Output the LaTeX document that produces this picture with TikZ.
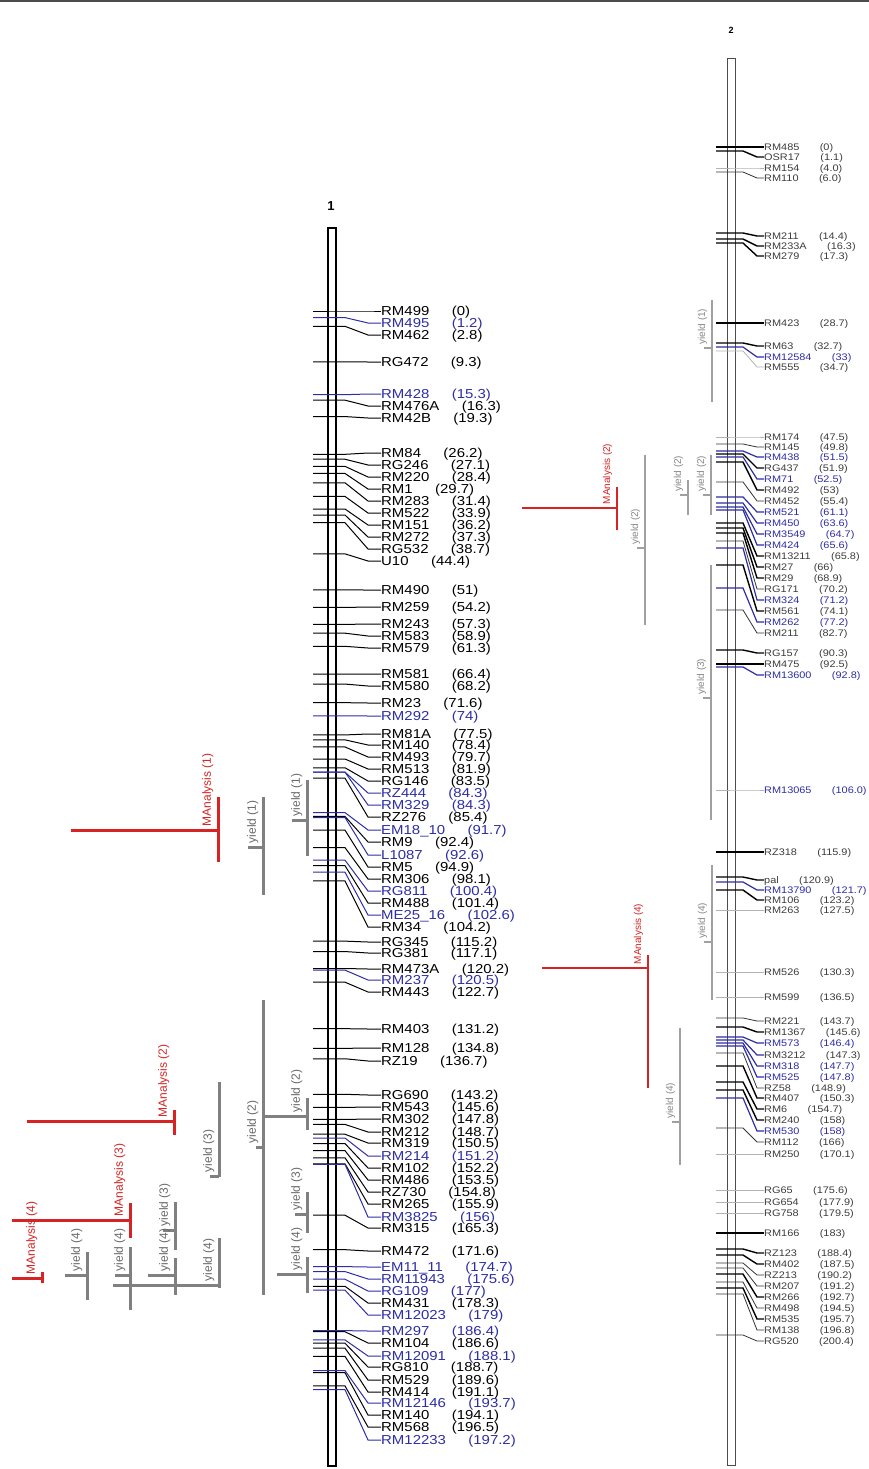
\documentclass[tikz,border=0pt]{standalone}
\usepackage{fontspec}
\newfontfamily\mapfont[FakeStretch=1.15]{Liberation Sans}
\newfontfamily\qfont{Liberation Sans}
\definecolor{mblue}{RGB}{45,45,165}
\definecolor{mred}{RGB}{215,35,35}
\definecolor{qgray}{RGB}{128,128,128}
\definecolor{tgray}{RGB}{105,105,105}
\definecolor{dtext}{RGB}{60,60,60}
\tikzset{
  labA/.style={font=\mapfont\fontsize{13}{13}\selectfont, inner sep=0pt, text height=9.3pt, text depth=0pt, anchor=west},
  labB/.style={font=\mapfont\fontsize{9.5}{9.5}\selectfont, inner sep=0pt, text height=6.8pt, text depth=0pt, anchor=west},
  tickA/.style={line width=1pt},
  ckK/.style={draw=black, line width=1.4pt},
  ckN/.style={draw=black!80, line width=0.8pt},
  ckL/.style={draw=black!30, line width=0.8pt},
  ckB/.style={draw=mblue, line width=1.2pt},
  graybar/.style={draw=qgray, line width=3pt},
  redbar/.style={draw=mred, line width=3pt},
  graylab/.style={font=\qfont\fontsize{12}{12}\selectfont, text=tgray, inner sep=0.5pt},
  redlab/.style={font=\qfont\fontsize{12}{12}\selectfont, text=mred, inner sep=0.5pt},
  graybarB/.style={draw=qgray!75, line width=1.5pt},
  redbarB/.style={draw=mred, line width=2.2pt},
  graylabB/.style={font=\qfont\fontsize{10}{10}\selectfont, text=tgray!80, inner sep=0.5pt},
  redlabB/.style={font=\qfont\fontsize{10}{10}\selectfont, text=mred, inner sep=0.5pt}
}
% chromosome 1 marker: id, colour, cM, label y, name, value
\newcommand\mkA[6]{%
  \coordinate (a#1) at (313,{311+5.47*#3});
  \node[labA,text=#2] (an#1) at (381,#4) {#5};
  \node[labA,text=#2] (av#1) at ([xshift=22pt]an#1.east) {#6};
  \draw[tickA,draw=#2] (a#1) -- ++(32,0) -- (368,#4) -- (an#1.west);
}
% chromosome 2 marker: id, tick style, text colour, tick y, label y, name, value
\newcommand\mkB[7]{%
  \coordinate (b#1) at (716,#4);
  \node[labB,text=#3] (bn#1) at (764,#5) {#6};
  \node[labB,text=#3] (bv#1) at ([xshift=20pt]bn#1.east) {#7};
  \draw[#2] (b#1) -- ++(27,0) -- (757,#5) -- (bn#1.west);
}
% QTL: id, bar style, label style, bar x, y1, y2, stub x, stub y, text
\newcommand\qtl[9]{%
  \draw[#2] (#4,#5) -- (#4,#6);
  \draw[#2] (#7,#8) -- (#4,#8);
  \node[#3,rotate=90,anchor=south west] (q#1) at ({#4-4},{#8-3}) {#9};
}
\begin{document}
\begin{tikzpicture}[x=1pt,y=-1pt]
\useasboundingbox (0,0) rectangle (869,1469);
\draw[line width=1.2pt, black!70] (0,1) -- (869,1);
% ---------- chromosome 1 ----------
\node[font=\qfont\bfseries\fontsize{13}{13}\selectfont] (c1) at (331,206) {1};
\draw[line width=1.3pt, fill=white] (328,228) rectangle (336,1466);
\mkA{1}{black}{0}{311}{RM499}{(0)}
\mkA{2}{mblue}{1.2}{323}{RM495}{(1.2)}
\mkA{3}{black}{2.8}{335}{RM462}{(2.8)}
\mkA{4}{black}{9.3}{362}{RG472}{(9.3)}
\mkA{5}{mblue}{15.3}{394}{RM428}{(15.3)}
\mkA{6}{black}{16.3}{406}{RM476A}{(16.3)}
\mkA{7}{black}{19.3}{418}{RM42B}{(19.3)}
\mkA{8}{black}{26.2}{453}{RM84}{(26.2)}
\mkA{9}{black}{27.1}{465}{RG246}{(27.1)}
\mkA{10}{black}{28.4}{477}{RM220}{(28.4)}
\mkA{11}{black}{29.7}{489}{RM1}{(29.7)}
\mkA{12}{black}{31.4}{501}{RM283}{(31.4)}
\mkA{13}{black}{33.9}{513}{RM522}{(33.9)}
\mkA{14}{black}{36.2}{525}{RM151}{(36.2)}
\mkA{15}{black}{37.3}{537}{RM272}{(37.3)}
\mkA{16}{black}{38.7}{549}{RG532}{(38.7)}
\mkA{17}{black}{44.4}{561}{U10}{(44.4)}
\mkA{18}{black}{51}{590}{RM490}{(51)}
\mkA{19}{black}{54.2}{607}{RM259}{(54.2)}
\mkA{20}{black}{57.3}{624}{RM243}{(57.3)}
\mkA{21}{black}{58.9}{636}{RM583}{(58.9)}
\mkA{22}{black}{61.3}{648}{RM579}{(61.3)}
\mkA{23}{black}{66.4}{674}{RM581}{(66.4)}
\mkA{24}{black}{68.2}{686}{RM580}{(68.2)}
\mkA{25}{black}{71.6}{703}{RM23}{(71.6)}
\mkA{26}{mblue}{74}{716}{RM292}{(74)}
\mkA{27}{black}{77.5}{734}{RM81A}{(77.5)}
\mkA{28}{black}{78.4}{745}{RM140}{(78.4)}
\mkA{29}{black}{79.7}{757}{RM493}{(79.7)}
\mkA{30}{black}{81.9}{769}{RM513}{(81.9)}
\mkA{31}{black}{83.5}{781}{RG146}{(83.5)}
\mkA{32}{mblue}{84.3}{793}{RZ444}{(84.3)}
\mkA{33}{mblue}{84.3}{805}{RM329}{(84.3)}
\mkA{34}{black}{85.4}{817}{RZ276}{(85.4)}
\mkA{35}{mblue}{91.7}{830}{EM18\_10}{(91.7)}
\mkA{36}{black}{92.4}{842}{RM9}{(92.4)}
\mkA{37}{mblue}{92.6}{855}{L1087}{(92.6)}
\mkA{38}{black}{94.9}{867}{RM5}{(94.9)}
\mkA{39}{black}{98.1}{879}{RM306}{(98.1)}
\mkA{40}{mblue}{100.4}{891}{RG811}{(100.4)}
\mkA{41}{black}{101.4}{903}{RM488}{(101.4)}
\mkA{42}{mblue}{102.6}{915}{ME25\_16}{(102.6)}
\mkA{43}{black}{104.2}{927}{RM34}{(104.2)}
\mkA{44}{black}{115.2}{942}{RG345}{(115.2)}
\mkA{45}{black}{117.1}{953}{RG381}{(117.1)}
\mkA{46}{black}{120.2}{969}{RM473A}{(120.2)}
\mkA{47}{mblue}{120.5}{980}{RM237}{(120.5)}
\mkA{48}{black}{122.7}{992}{RM443}{(122.7)}
\mkA{49}{black}{131.2}{1029}{RM403}{(131.2)}
\mkA{50}{black}{134.8}{1048}{RM128}{(134.8)}
\mkA{51}{black}{136.7}{1061}{RZ19}{(136.7)}
\mkA{52}{black}{143.2}{1095}{RG690}{(143.2)}
\mkA{53}{black}{145.6}{1107}{RM543}{(145.6)}
\mkA{54}{black}{147.8}{1119}{RM302}{(147.8)}
\mkA{55}{black}{148.7}{1132}{RM212}{(148.7)}
\mkA{56}{black}{150.5}{1143}{RM319}{(150.5)}
\mkA{57}{mblue}{151.2}{1156}{RM214}{(151.2)}
\mkA{58}{black}{152.2}{1168}{RM102}{(152.2)}
\mkA{59}{black}{153.5}{1180}{RM486}{(153.5)}
\mkA{60}{black}{154.8}{1192}{RZ730}{(154.8)}
\mkA{61}{black}{155.9}{1204}{RM265}{(155.9)}
\mkA{62}{mblue}{156}{1217}{RM3825}{(156)}
\mkA{63}{black}{165.3}{1228}{RM315}{(165.3)}
\mkA{64}{black}{171.6}{1251}{RM472}{(171.6)}
\mkA{65}{mblue}{174.7}{1267}{EM11\_11}{(174.7)}
\mkA{66}{mblue}{175.6}{1279}{RM11943}{(175.6)}
\mkA{67}{mblue}{177}{1291}{RG109}{(177)}
\mkA{68}{black}{178.3}{1303}{RM431}{(178.3)}
\mkA{69}{mblue}{179}{1315}{RM12023}{(179)}
\mkA{70}{mblue}{186.4}{1331}{RM297}{(186.4)}
\mkA{71}{black}{186.6}{1343}{RM104}{(186.6)}
\mkA{72}{mblue}{188.1}{1356}{RM12091}{(188.1)}
\mkA{73}{black}{188.7}{1367}{RG810}{(188.7)}
\mkA{74}{black}{189.6}{1380}{RM529}{(189.6)}
\mkA{75}{black}{191.1}{1392}{RM414}{(191.1)}
\mkA{76}{mblue}{193.7}{1403}{RM12146}{(193.7)}
\mkA{77}{black}{194.1}{1415}{RM140}{(194.1)}
\mkA{78}{black}{196.5}{1427}{RM568}{(196.5)}
\mkA{79}{mblue}{197.2}{1440}{RM12233}{(197.2)}
% ---------- QTLs left of chromosome 1 ----------
\qtl{1}{redbar}{redlab}{218}{797}{862}{71}{830}{MAnalysis (1)}
\qtl{2}{graybar}{graylab}{263}{797}{895}{248}{847}{yield (1)}
\qtl{3}{graybar}{graylab}{307}{780}{856}{292}{820}{yield (1)}
\qtl{4}{graybar}{graylab}{263}{1000}{1295}{256}{1147}{yield (2)}
\qtl{5}{graybar}{graylab}{307}{1098}{1130}{263}{1116}{yield (2)}
\qtl{6}{graybar}{graylab}{307}{1192}{1233}{295}{1214}{yield (3)}
\qtl{7}{graybar}{graylab}{307}{1257}{1293}{277}{1274}{yield (4)}
\qtl{8}{graybar}{graylab}{219}{1082}{1177}{210}{1176}{yield (3)}
\qtl{9}{graybar}{graylab}{219}{1238}{1288}{113}{1285}{yield (4)}
\qtl{10}{graybar}{graylab}{175}{1202}{1250}{163}{1230}{yield (3)}
\qtl{11}{graybar}{graylab}{175}{1258}{1295}{148}{1275}{yield (4)}
\qtl{12}{graybar}{graylab}{130}{1247}{1310}{115}{1275}{yield (4)}
\qtl{13}{graybar}{graylab}{87}{1252}{1300}{65}{1275}{yield (4)}
\qtl{14}{redbar}{redlab}{130}{1203}{1238}{12}{1220}{MAnalysis (3)}
\qtl{15}{redbar}{redlab}{42}{1272}{1283}{12}{1278}{MAnalysis (4)}
\qtl{16}{redbar}{redlab}{174}{1110}{1135}{27}{1121}{MAnalysis (2)}
% ---------- chromosome 2 ----------
\node[font=\qfont\bfseries\fontsize{9}{9}\selectfont] (c2) at (731,30) {2};
\draw[line width=0.9pt, black!70, fill=white] (727,58) rectangle (735,1465);
\mkB{1}{ckK}{dtext}{147}{147}{RM485}{(0)}
\mkB{2}{ckK}{dtext}{151}{157}{OSR17}{(1.1)}
\mkB{3}{ckL}{dtext}{168}{168}{RM154}{(4.0)}
\mkB{4}{ckN}{dtext}{172}{178}{RM110}{(6.0)}
\mkB{5}{ckK}{dtext}{233}{236}{RM211}{(14.4)}
\mkB{6}{ckK}{dtext}{239}{246}{RM233A}{(16.3)}
\mkB{7}{ckK}{dtext}{243}{256}{RM279}{(17.3)}
\mkB{8}{ckK}{dtext}{323}{323}{RM423}{(28.7)}
\mkB{9}{ckK}{dtext}{343}{346}{RM63}{(32.7)}
\mkB{10}{ckB}{mblue}{347}{357}{RM12584}{(33)}
\mkB{11}{ckL}{dtext}{351}{367}{RM555}{(34.7)}
\mkB{12}{ckL}{dtext}{437}{437}{RM174}{(47.5)}
\mkB{13}{ckN}{dtext}{444}{447}{RM145}{(49.8)}
\mkB{14}{ckB}{mblue}{451}{457}{RM438}{(51.5)}
\mkB{15}{ckK}{dtext}{454}{468}{RG437}{(51.9)}
\mkB{16}{ckB}{mblue}{457}{479}{RM71}{(52.5)}
\mkB{17}{ckK}{dtext}{462}{490}{RM492}{(53)}
\mkB{18}{ckN}{dtext}{482}{501}{RM452}{(55.4)}
\mkB{19}{ckB}{mblue}{497}{512}{RM521}{(61.1)}
\mkB{20}{ckB}{mblue}{503}{523}{RM450}{(63.6)}
\mkB{21}{ckB}{mblue}{507}{534}{RM3549}{(64.7)}
\mkB{22}{ckB}{mblue}{510}{545}{RM424}{(65.6)}
\mkB{23}{ckK}{dtext}{523}{556}{RM13211}{(65.8)}
\mkB{24}{ckK}{dtext}{528}{567}{RM27}{(66)}
\mkB{25}{ckK}{dtext}{533}{578}{RM29}{(68.9)}
\mkB{26}{ckN}{dtext}{541}{589}{RG171}{(70.2)}
\mkB{27}{ckB}{mblue}{548}{600}{RM324}{(71.2)}
\mkB{28}{ckK}{dtext}{565}{611}{RM561}{(74.1)}
\mkB{29}{ckB}{mblue}{588}{622}{RM262}{(77.2)}
\mkB{30}{ckN}{dtext}{610}{633}{RM211}{(82.7)}
\mkB{31}{ckK}{dtext}{650}{653}{RG157}{(90.3)}
\mkB{32}{ckK}{dtext}{664}{664}{RM475}{(92.5)}
\mkB{33}{ckB}{mblue}{667}{675}{RM13600}{(92.8)}
\mkB{34}{ckL}{mblue}{790}{790}{RM13065}{(106.0)}
\mkB{35}{ckK}{dtext}{852}{852}{RZ318}{(115.9)}
\mkB{36}{ckK}{dtext}{877}{880}{pal}{(120.9)}
\mkB{37}{ckB}{mblue}{882}{890}{RM13790}{(121.7)}
\mkB{38}{ckK}{dtext}{890}{900}{RM106}{(123.2)}
\mkB{39}{ckL}{dtext}{910}{910}{RM263}{(127.5)}
\mkB{40}{ckL}{dtext}{972}{972}{RM526}{(130.3)}
\mkB{41}{ckL}{dtext}{997}{997}{RM599}{(136.5)}
\mkB{42}{ckN}{dtext}{1018}{1021}{RM221}{(143.7)}
\mkB{43}{ckK}{dtext}{1027}{1032}{RM1367}{(145.6)}
\mkB{44}{ckB}{mblue}{1037}{1043}{RM573}{(146.4)}
\mkB{45}{ckB}{dtext}{1040}{1055}{RM3212}{(147.3)}
\mkB{46}{ckB}{mblue}{1043}{1066}{RM318}{(147.7)}
\mkB{47}{ckB}{mblue}{1046}{1077}{RM525}{(147.8)}
\mkB{48}{ckN}{dtext}{1053}{1088}{RZ58}{(148.9)}
\mkB{49}{ckK}{dtext}{1066}{1098}{RM407}{(150.3)}
\mkB{50}{ckK}{dtext}{1082}{1109}{RM6}{(154.7)}
\mkB{51}{ckK}{dtext}{1090}{1120}{RM240}{(158)}
\mkB{52}{ckB}{mblue}{1098}{1131}{RM530}{(158)}
\mkB{53}{ckN}{dtext}{1128}{1142}{RM112}{(166)}
\mkB{54}{ckL}{dtext}{1154}{1154}{RM250}{(170.1)}
\mkB{55}{ckL}{dtext}{1190}{1190}{RG65}{(175.6)}
\mkB{56}{ckL}{dtext}{1202}{1202}{RG654}{(177.9)}
\mkB{57}{ckL}{dtext}{1213}{1213}{RG758}{(179.5)}
\mkB{58}{ckK}{dtext}{1233}{1233}{RM166}{(183)}
\mkB{59}{ckK}{dtext}{1249}{1253}{RZ123}{(188.4)}
\mkB{60}{ckK}{dtext}{1255}{1264}{RM402}{(187.5)}
\mkB{61}{ckN}{dtext}{1263}{1275}{RZ213}{(190.2)}
\mkB{62}{ckN}{dtext}{1268}{1286}{RM207}{(191.2)}
\mkB{63}{ckK}{dtext}{1274}{1297}{RM266}{(192.7)}
\mkB{64}{ckN}{dtext}{1282}{1308}{RM498}{(194.5)}
\mkB{65}{ckK}{dtext}{1288}{1319}{RM535}{(195.7)}
\mkB{66}{ckN}{dtext}{1294}{1330}{RM138}{(196.8)}
\mkB{67}{ckN}{dtext}{1335}{1341}{RG520}{(200.4)}
% ---------- QTLs left of chromosome 2 ----------
\qtl{17}{graybarB}{graylabB}{712}{300}{402}{704}{348}{yield (1)}
\qtl{18}{graybarB}{graylabB}{711}{455}{515}{703}{495}{yield (2)}
\qtl{19}{graybarB}{graylabB}{688}{480}{515}{680}{495}{yield (2)}
\qtl{20}{graybarB}{graylabB}{645}{455}{625}{637}{548}{yield (2)}
\qtl{21}{redbarB}{redlabB}{617}{487}{530}{522}{508}{MAnalysis (2)}
\qtl{22}{graybarB}{graylabB}{711}{565}{820}{703}{698}{yield (3)}
\qtl{23}{graybarB}{graylabB}{712}{865}{1000}{704}{942}{yield (4)}
\qtl{24}{redbarB}{redlabB}{648}{955}{1088}{542}{968}{MAnalysis (4)}
\qtl{25}{graybarB}{graylabB}{680}{1028}{1165}{672}{1122}{yield (4)}
\end{tikzpicture}
\end{document}
